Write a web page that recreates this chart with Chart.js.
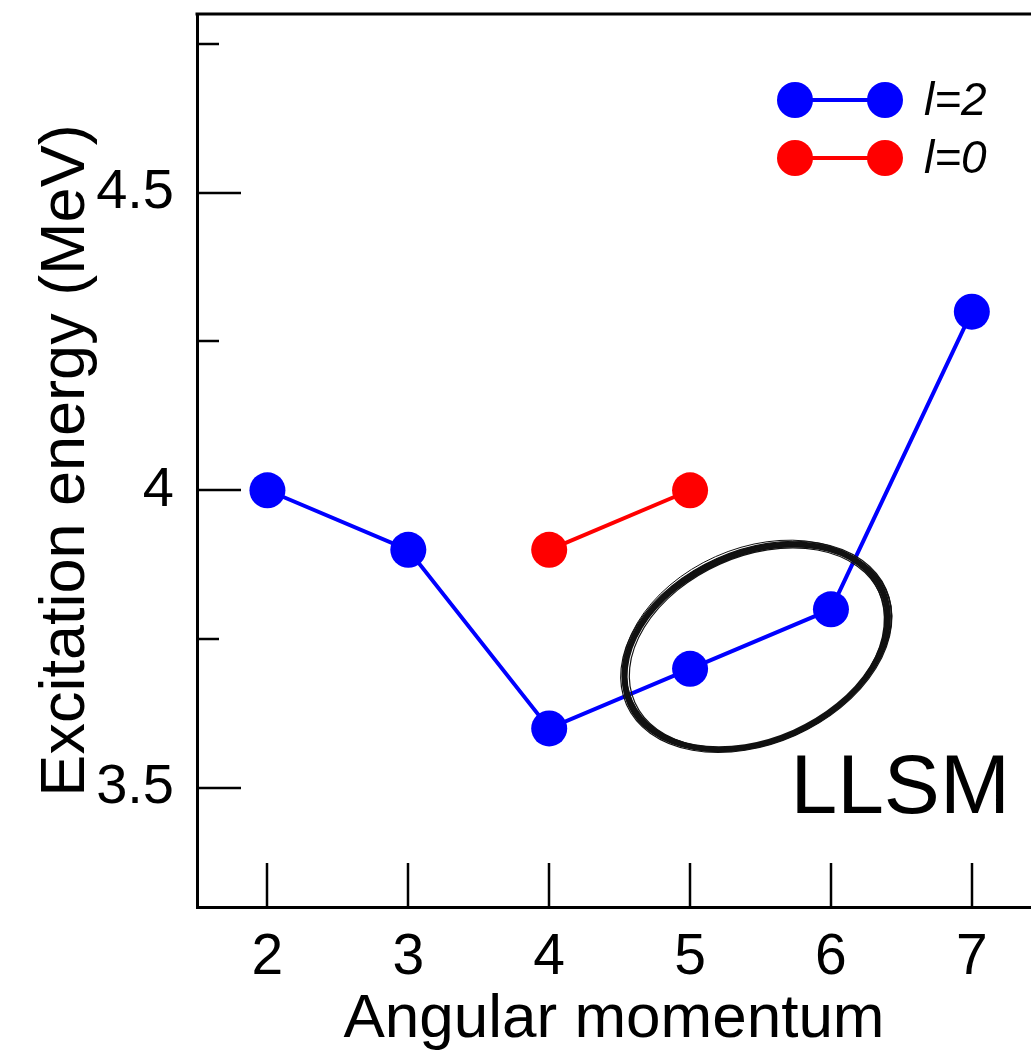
<!DOCTYPE html>
<html>
<head>
<meta charset="utf-8">
<script src="https://cdn.jsdelivr.net/npm/chart.js@4.4.1/dist/chart.umd.min.js"></script>
<style>
  html, body { margin: 0; padding: 0; background: #fff; overflow: hidden; }
  canvas { display: block; }
</style>
</head>
<body>
<canvas id="levelChart" width="1031" height="1062"></canvas>
<script>
// values
let spinL2 = [2, 3, 4, 5, 6, 7];
let energyL2 = [4.0, 3.9, 3.6, 3.7, 3.8, 4.3];
let spinL0 = [4, 5];
let energyL0 = [3.9, 4.0];

let xTicks = [2, 3, 4, 5, 6, 7];
let yMajorTicks = [3.5, 4, 4.5];
let yMajorLabels = ['3.5', '4', '4.5'];
let yMinorTicks = [3.75, 4.25, 4.75];

let seriesLabels = ['l=2', 'l=0'];
let seriesColors = ['#0000ff', '#ff0000'];

let fontFamily = "'Liberation Sans', Arial, Helvetica, sans-serif";
Chart.defaults.font.family = fontFamily;
Chart.defaults.color = '#000';

function toPoints(xs, ys) {
    return xs.map(function(x, i) { return { x: x, y: ys[i] }; });
}

// inward ticks, top frame line, the ellipse, the LLSM note and the legend
let framePlugin = {
    id: 'frame',
    afterDraw: function(chart) {
        let ctx = chart.ctx;
        let area = chart.chartArea;
        let xs = chart.scales.x;
        let ys = chart.scales.y;
        ctx.save();
        ctx.strokeStyle = '#000';

        ctx.lineWidth = 3;
        ctx.beginPath();
        ctx.moveTo(area.left - 1.5, area.top);
        ctx.lineTo(chart.width, area.top);
        ctx.stroke();

        ctx.lineWidth = 2.5;
        xTicks.forEach(function(v) {
            let px = Math.round(xs.getPixelForValue(v));
            ctx.beginPath();
            ctx.moveTo(px, area.bottom);
            ctx.lineTo(px, area.bottom - 44);
            ctx.stroke();
        });
        yMajorTicks.forEach(function(v) {
            let py = Math.round(ys.getPixelForValue(v));
            ctx.beginPath();
            ctx.moveTo(area.left, py);
            ctx.lineTo(area.left + 44, py);
            ctx.stroke();
        });
        yMinorTicks.forEach(function(v) {
            let py = Math.round(ys.getPixelForValue(v));
            ctx.beginPath();
            ctx.moveTo(area.left, py);
            ctx.lineTo(area.left + 22, py);
            ctx.stroke();
        });

        // hand drawn ellipse round the 5 and 6 states
        let cx = xs.getPixelForValue(5.47);
        let cy = ys.getPixelForValue(3.737);
        let unit = xs.getPixelForValue(1) - xs.getPixelForValue(0);
        let rx = 0.98 * unit;
        let ry = 0.665 * unit;
        let strokes = [
            [0, 0, 0, 6],
            [3, -1, 1, 1.5],
            [-3, 1, -1, 1.5],
            [4, 3, 0, 1.2],
            [-4, -2, 1, 1.2],
            [1, 4, -1, 1]
        ];
        ctx.strokeStyle = '#111';
        strokes.forEach(function(s) {
            ctx.lineWidth = s[3];
            ctx.beginPath();
            ctx.ellipse(cx + s[2], cy + s[2], rx + s[0], ry + s[1], -0.42, 0, Math.PI * 2);
            ctx.stroke();
        });

        ctx.fillStyle = '#000';
        ctx.font = '84px ' + fontFamily;
        ctx.textAlign = 'right';
        ctx.textBaseline = 'alphabetic';
        ctx.fillText('LLSM', xs.getPixelForValue(7.27), ys.getPixelForValue(3.458));

        // legend
        let legendTop = area.top + 86;
        seriesLabels.forEach(function(label, i) {
            let y = legendTop + i * 58;
            let x1 = 795, x2 = 885;
            ctx.strokeStyle = seriesColors[i];
            ctx.fillStyle = seriesColors[i];
            ctx.lineWidth = 4;
            ctx.beginPath();
            ctx.moveTo(x1, y);
            ctx.lineTo(x2, y);
            ctx.stroke();
            [x1, x2].forEach(function(x) {
                ctx.beginPath();
                ctx.arc(x, y, 18, 0, Math.PI * 2);
                ctx.fill();
            });
            ctx.fillStyle = '#000';
            ctx.font = 'italic 46px ' + fontFamily;
            ctx.textAlign = 'left';
            ctx.textBaseline = 'middle';
            ctx.fillText(label, 924, y + 2);
        });
        ctx.restore();
    }
};

let datasetL2 = {
    label: seriesLabels[0],
    data: toPoints(spinL2, energyL2),
    borderColor: seriesColors[0],
    backgroundColor: seriesColors[0],
    borderWidth: 4,
    pointRadius: 18,
    pointHoverRadius: 18,
    pointBorderWidth: 0,
    tension: 0
};
let datasetL0 = {
    label: seriesLabels[1],
    data: toPoints(spinL0, energyL0),
    borderColor: seriesColors[1],
    backgroundColor: seriesColors[1],
    borderWidth: 4,
    pointRadius: 18,
    pointHoverRadius: 18,
    pointBorderWidth: 0,
    tension: 0
};

let chartCanvas = document.getElementById('levelChart');
new Chart(chartCanvas, {
    type: 'line',
    data: { datasets: [datasetL2, datasetL0] },
    options: {
        responsive: false,
        animation: false,
        devicePixelRatio: 1,
        clip: false,
        layout: { autoPadding: false, padding: { top: 14, right: 0, left: 0, bottom: 0 } },
        plugins: { legend: { display: false }, tooltip: { enabled: false } },
        scales: {
            x: {
                type: 'linear',
                min: 1.5,
                max: 7.42,
                grid: { display: false, drawTicks: false },
                border: { display: true, color: '#000', width: 3 },
                afterBuildTicks: function(scale) {
                    scale.ticks = xTicks.map(function(v) { return { value: v }; });
                },
                afterFit: function(scale) {
                    scale.height = 155;
                    scale.paddingLeft = 0;
                    scale.paddingRight = 0;
                },
                ticks: {
                    autoSkip: false,
                    maxRotation: 0,
                    padding: 17,
                    font: { size: 57 },
                    color: '#000',
                    callback: function(v) { return String(v); }
                },
                title: {
                    display: true,
                    text: 'Angular momentum',
                    font: { size: 62 },
                    color: '#000',
                    padding: { top: 0, bottom: 5 }
                }
            },
            y: {
                type: 'linear',
                min: 3.3,
                max: 4.8,
                grid: { display: false, drawTicks: false },
                border: { display: true, color: '#000', width: 3 },
                afterBuildTicks: function(scale) {
                    scale.ticks = yMajorTicks.map(function(v) { return { value: v }; });
                },
                afterFit: function(scale) {
                    scale.width = 197;
                    scale.paddingTop = 0;
                    scale.paddingBottom = 0;
                },
                ticks: {
                    autoSkip: false,
                    padding: 23,
                    font: { size: 56 },
                    color: '#000',
                    callback: function(v) {
                        let i = yMajorTicks.indexOf(v);
                        return i >= 0 ? yMajorLabels[i] : '';
                    }
                },
                title: {
                    display: true,
                    text: 'Excitation energy (MeV)',
                    font: { size: 63 },
                    color: '#000',
                    padding: { top: 29, bottom: 0 }
                }
            }
        }
    },
    plugins: [framePlugin]
});
</script>
</body>
</html>
